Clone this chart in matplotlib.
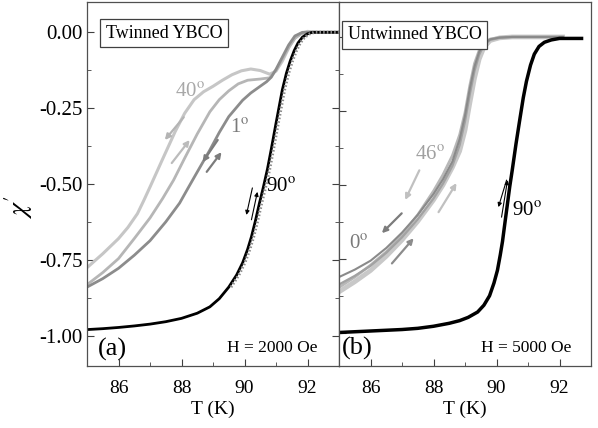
import numpy as np
import matplotlib
matplotlib.use("Agg")
import matplotlib.pyplot as plt
import matplotlib.transforms as mtransforms
from matplotlib.ticker import MultipleLocator

plt.rcParams['font.family'] = ['Liberation Serif', 'DejaVu Serif']
plt.rcParams['mathtext.fontset'] = 'stix'
plt.rcParams['axes.unicode_minus'] = False

# ---------------------------
# Daten (a) verzwillingt, H = 2000 Oe
# ---------------------------
t_a40c = [85.0, 85.5, 86.0, 86.3, 86.6, 86.8, 87.0, 87.4, 87.8, 88.1, 88.4, 88.7, 89.0,
          89.3, 89.6, 89.9, 90.2, 90.5, 90.8, 91.0, 91.2, 91.42, 91.6, 91.8, 92.0, 92.3, 93.0]
x_a40c = [-0.776, -0.73, -0.68, -0.643, -0.598, -0.555, -0.51, -0.418, -0.327, -0.267, -0.222, -0.196, -0.178,
          -0.158, -0.14, -0.127, -0.121, -0.126, -0.138, -0.128, -0.095, -0.048, -0.018, -0.003, 0.003, 0.0, 0.0]

t_a40w = [85.0, 85.5, 86.0, 86.5, 87.0, 87.4, 87.75, 88.1, 88.5, 88.9, 89.2, 89.5,
          89.8, 90.1, 90.5, 90.8, 91.0, 91.2, 91.4, 91.6, 91.8, 92.0, 93.0]
x_a40w = [-0.832, -0.792, -0.746, -0.68, -0.612, -0.548, -0.487, -0.415, -0.335, -0.262, -0.222, -0.193,
          -0.17, -0.158, -0.154, -0.15, -0.125, -0.088, -0.05, -0.02, -0.005, 0.0, 0.0]

t_a1 = [85.0, 85.5, 86.0, 86.5, 87.0, 87.5, 87.94, 88.2, 88.48, 88.9, 89.2, 89.5, 89.94,
        90.2, 90.47, 90.7, 90.85, 91.0, 91.2, 91.4, 91.6, 91.84, 93.0]
x_a1 = [-0.84, -0.812, -0.778, -0.735, -0.687, -0.625, -0.563, -0.515, -0.464, -0.388, -0.33, -0.278, -0.224,
        -0.2, -0.18, -0.163, -0.148, -0.122, -0.082, -0.042, -0.012, 0.0, 0.0]

t_a90 = [85.0, 85.5, 86.0, 86.5, 87.0, 87.5, 88.0, 88.5, 88.9, 89.2, 89.5, 89.75, 89.94,
         90.1, 90.22, 90.35, 90.47, 90.6, 90.73, 90.85, 91.0, 91.1, 91.2, 91.33, 91.45,
         91.58, 91.7, 91.84, 92.0, 92.15, 93.0]
x_a90 = [-0.98, -0.977, -0.973, -0.968, -0.962, -0.954, -0.943, -0.926, -0.905, -0.878, -0.84, -0.8, -0.76,
         -0.715, -0.674, -0.62, -0.565, -0.51, -0.45, -0.385, -0.3, -0.245, -0.19, -0.135, -0.095,
         -0.06, -0.035, -0.016, -0.005, 0.0, 0.0]

# ---------------------------
# Daten (b) unverzwillingt, H = 5000 Oe
# ---------------------------
t_b = [85.0, 85.5, 86.0, 86.5, 87.0, 87.5, 88.0, 88.3, 88.6, 88.83, 89.0, 89.15,
       89.3, 89.45, 89.6, 89.8, 90.1, 90.5, 92.1]
x_b0c = [-0.81, -0.785, -0.755, -0.712, -0.66, -0.6, -0.53, -0.48, -0.42, -0.345, -0.265, -0.175,
         -0.1, -0.05, -0.022, -0.008, -0.002, 0.0, 0.0]
x_b0w = [-0.835, -0.806, -0.772, -0.728, -0.676, -0.615, -0.545, -0.495, -0.435, -0.365, -0.285, -0.195,
         -0.115, -0.06, -0.027, -0.01, -0.003, 0.0, 0.0]
x_b46a = [-0.86, -0.826, -0.788, -0.74, -0.685, -0.622, -0.55, -0.5, -0.44, -0.385, -0.315, -0.225,
          -0.14, -0.075, -0.035, -0.012, -0.003, 0.0, 0.0]
x_b46b = [-0.845, -0.81, -0.77, -0.725, -0.668, -0.6, -0.52, -0.465, -0.4, -0.33, -0.255, -0.165,
          -0.09, -0.045, -0.02, -0.007, -0.002, 0.0, 0.0]

t_b90 = [85.0, 86.0, 87.0, 87.5, 88.0, 88.5, 88.83, 89.1, 89.4, 89.6, 89.78, 89.92, 90.03,
         90.12, 90.19, 90.27, 90.35, 90.42, 90.5, 90.62, 90.73, 90.85, 90.95, 91.08, 91.2,
         91.35, 91.52, 91.74, 92.0, 92.7]
x_b90 = [-0.997, -0.992, -0.987, -0.983, -0.976, -0.966, -0.957, -0.946, -0.928, -0.905, -0.873, -0.83, -0.787,
         -0.735, -0.69, -0.625, -0.561, -0.505, -0.449, -0.36, -0.285, -0.205, -0.15, -0.095, -0.058,
         -0.032, -0.018, -0.01, -0.005, -0.005]

# ---------------------------
# Diagramm
# ---------------------------
fig = plt.figure(figsize=(5.98, 4.28), dpi=100)
ax1 = fig.add_axes([0.1455, 0.1449, 0.4214, 0.8505])
ax2 = fig.add_axes([0.5669, 0.1449, 0.4214, 0.8505])

ax1.plot(t_a40c, x_a40c, color='#c6c6c6', lw=2.2)
ax1.plot(t_a40w, x_a40w, color='#b6b6b6', lw=2.0)
ax1.plot(t_a1, x_a1, color='#8c8c8c', lw=2.0)
ax1.plot(t_a90, x_a90, color='black', lw=2.0)
# gestrichelte Messpunkt-Textur rechts neben der steilen Flanke
steil = np.array(t_a90) > 89.3
versatz = mtransforms.offset_copy(ax1.transData, fig=fig, x=1.6, y=0, units='points')
ax1.plot(np.array(t_a90)[steil], np.array(x_a90)[steil], color='#8a8a8a', lw=2.2,
         ls=(0, (0.5, 0.7)), transform=versatz)

ax2.plot(t_b, x_b46a, color='#c8c8c8', lw=3.4)
ax2.plot(t_b, x_b46b, color='#b8b8b8', lw=2.0)
ax2.plot(t_b, x_b0w, color='#a2a2a2', lw=1.6)
ax2.plot(t_b, x_b0c, color='#8a8a8a', lw=1.5)
ax2.plot(t_b90, x_b90, color='black', lw=2.5)


def pfeil(ax, start, ende, farbe):
    ax.annotate('', xy=ende, xytext=start,
                arrowprops=dict(arrowstyle='-|>', color=farbe, lw=1.6,
                                mutation_scale=8, shrinkA=0, shrinkB=0))


def pfeil_duenn(ax, start, ende):
    ax.annotate('', xy=ende, xytext=start,
                arrowprops=dict(arrowstyle='-|>', color='black', lw=0.8,
                                mutation_scale=6, shrinkA=0, shrinkB=0))


pfeil(ax1, (88.07, -0.28), (87.47, -0.355), '#b4b4b4')
pfeil(ax1, (87.69, -0.431), (88.26, -0.355), '#bcbcbc')
pfeil(ax1, (89.15, -0.355), (88.67, -0.428), '#7c7c7c')
pfeil(ax1, (88.8, -0.46), (89.27, -0.395), '#7c7c7c')
pfeil_duenn(ax1, (90.25, -0.513), (90.06, -0.602))
pfeil_duenn(ax1, (90.22, -0.618), (90.41, -0.526))

pfeil(ax2, (87.55, -0.45), (87.1, -0.55), '#c0c0c0')
pfeil(ax2, (86.99, -0.595), (86.36, -0.662), '#7c7c7c')
pfeil(ax2, (86.68, -0.764), (87.37, -0.679), '#8c8c8c')
pfeil(ax2, (88.16, -0.591), (88.73, -0.493), '#c0c0c0')
pfeil_duenn(ax2, (90.32, -0.483), (90.06, -0.574))
pfeil_duenn(ax2, (90.16, -0.608), (90.35, -0.483))

# Beschriftungen
ax1.text(88.26, -0.2, r'40$^{\rm o}$', color='#a8a8a8', fontsize=15, ha='center', va='center')
ax1.text(89.84, -0.316, r'1$^{\rm o}$', color='#7a7a7a', fontsize=15, ha='center', va='center')
ax1.text(91.17, -0.51, r'90$^{\rm o}$', color='black', fontsize=15, ha='center', va='center')
ax2.text(87.88, -0.4, r'46$^{\rm o}$', color='#a0a0a0', fontsize=15, ha='center', va='center')
ax2.text(85.63, -0.70, r'0$^{\rm o}$', color='#7a7a7a', fontsize=15, ha='center', va='center')
ax2.text(90.98, -0.59, r'90$^{\rm o}$', color='black', fontsize=15, ha='center', va='center')

box = dict(boxstyle='square,pad=0.3', fc='white', ec='#404040', lw=0.9)
ax1.text(87.44, -0.003, 'Twinned YBCO', fontsize=13, ha='center', va='center', bbox=box)
ax2.text(87.4, 0.007, 'Untwinned YBCO', fontsize=13, ha='center', va='center', bbox=box)

ax1.text(85.82, -1.046, '(a)', fontsize=19, ha='center', va='center')
ax2.text(85.57, -1.05, '(b)', fontsize=19, ha='center', va='center')
ax1.text(90.89, -1.04, 'H = 2000 Oe', fontsize=12.5, ha='center', va='center')
ax2.text(90.95, -1.05, 'H = 5000 Oe', fontsize=12.5, ha='center', va='center')

# Achsen
ax1.set_ylim(-1.1, 0.1)
ax2.set_ylim(-1.11, 0.118)
for ax in (ax1, ax2):
    ax.set_xlim(85, 93)
    ax.xaxis.set_major_locator(MultipleLocator(2))
    ax.xaxis.set_minor_locator(MultipleLocator(1))
    ax.yaxis.set_major_locator(MultipleLocator(0.25))
    ax.yaxis.set_minor_locator(MultipleLocator(0.125))
    ax.tick_params(which='both', direction='in', color='#404040')
    ax.tick_params(axis='x', labelsize=14, pad=10)
    ax.tick_params(axis='y', labelsize=15, pad=3)
    ax.tick_params(which='major', length=5)
    ax.tick_params(which='minor', length=3)
    ax.set_xlabel('T (K)', fontsize=14, labelpad=3)
    for s in ax.spines.values():
        s.set_color('#505050')
        s.set_linewidth(0.9)

ax1.tick_params(which='both', right=True, labelright=False)
ax2.tick_params(labelleft=False)
ax1.yaxis.set_major_formatter(plt.FuncFormatter(lambda v, p: f'{v:.2f}'))
ax1.set_ylabel(r"$\chi^{\prime}$", fontsize=20)
ax1.yaxis.set_label_coords(-0.205, 0.437)

fig.savefig('out.png', dpi=100)
